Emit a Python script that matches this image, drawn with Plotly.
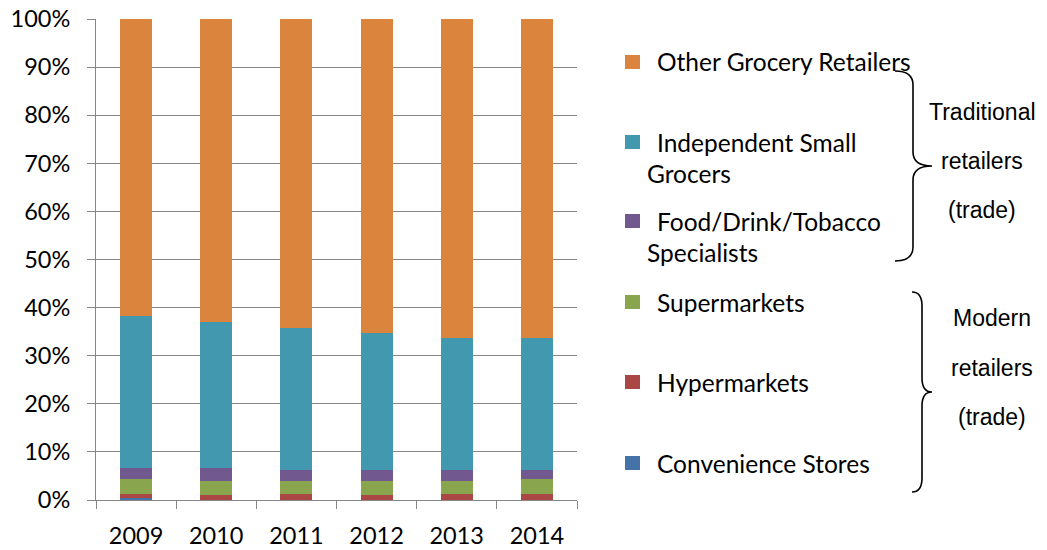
import plotly.graph_objects as go

years = ["2009", "2010", "2011", "2012", "2013", "2014"]

# segment shares (%), bottom to top
convenience = [0.5, 0.0, 0.0, 0.0, 0.0, 0.0]
hypermarkets = [0.8, 1.0, 1.3, 1.0, 1.3, 1.3]
supermarkets = [3.0, 3.0, 2.7, 3.0, 2.7, 3.0]
food_specialists = [2.4, 2.7, 2.3, 2.3, 2.3, 2.0]
independent = [31.5, 30.3, 29.5, 28.4, 27.4, 27.4]
other_grocery = [61.8, 63.0, 64.2, 65.3, 66.3, 66.3]

series = [
    ("Convenience Stores", convenience, "#4572A7"),
    ("Hypermarkets", hypermarkets, "#AA4643"),
    ("Supermarkets", supermarkets, "#89A54E"),
    ("Food/Drink/Tobacco Specialists", food_specialists, "#71588F"),
    ("Independent Small Grocers", independent, "#4198AF"),
    ("Other Grocery Retailers", other_grocery, "#DB843D"),
]

W, H = 1047, 550
L, R, T, B = 96, 577, 19, 500  # plot area in screen pixels


def px(x):
    return (x - L) / (R - L)


def py(y):
    return (B - y) / (B - T)


fig = go.Figure()
for name, vals, col in series:
    fig.add_trace(go.Bar(x=years, y=vals, name=name, marker_color=col,
                         marker_line_width=0, showlegend=False))

shapes = []
annotations = []

# legend drawn by hand (multi-line entries)
legend_rows = [
    ("Other Grocery Retailers", None, 62, "#DB843D"),
    ("Independent Small", "Grocers", 142, "#4198AF"),
    ("Food/Drink/Tobacco", "Specialists", 221, "#71588F"),
    ("Supermarkets", None, 302, "#89A54E"),
    ("Hypermarkets", None, 382, "#AA4643"),
    ("Convenience Stores", None, 463, "#4572A7"),
]
font_leg = dict(family="Lato, Open Sans, sans-serif", size=24.5, color="black")
for first, second, yc, col in legend_rows:
    shapes.append(dict(type="rect", xref="paper", yref="paper",
                       x0=px(625), x1=px(640), y0=py(yc + 7), y1=py(yc - 7),
                       fillcolor=col, line_width=0))
    annotations.append(dict(text=first, xref="paper", yref="paper", x=px(655), y=py(yc),
                            xanchor="left", yanchor="middle", showarrow=False, font=font_leg))
    if second:
        annotations.append(dict(text=second, xref="paper", yref="paper", x=px(645), y=py(yc + 31),
                                xanchor="left", yanchor="middle", showarrow=False, font=font_leg))


def brace(x_end, x_mid, x_tip, y_top, y_bot):
    ym = (y_top + y_bot) / 2
    pts = [
        ("M", (x_end, y_top)),
        ("Q", (x_mid, y_top), (x_mid, y_top + 14)),
        ("L", (x_mid, ym - 14)),
        ("Q", (x_mid, ym), (x_tip, ym)),
        ("Q", (x_mid, ym), (x_mid, ym + 14)),
        ("L", (x_mid, y_bot - 14)),
        ("Q", (x_mid, y_bot), (x_end, y_bot)),
    ]
    d = ""
    for cmd, *ps in pts:
        d += cmd + " " + " ".join(f"{px(a):.5f},{py(b):.5f}" for a, b in ps) + " "
    return dict(type="path", xref="paper", yref="paper", path=d.strip(),
                line=dict(color="black", width=1.6))


shapes.append(brace(895, 913, 932, 71, 261))
shapes.append(brace(912, 922, 932, 292, 492))

font_br = dict(family="Liberation Sans, Arial, sans-serif", size=23, color="black")
for txt, xc, yc in [("Traditional", 982, 112), ("retailers", 982, 161), ("(trade)", 982, 210),
                    ("Modern", 992, 318), ("retailers", 992, 368), ("(trade)", 992, 417)]:
    annotations.append(dict(text=txt, xref="paper", yref="paper", x=px(xc), y=py(yc),
                            xanchor="center", yanchor="middle", showarrow=False, font=font_br))

fig.update_layout(
    width=W, height=H,
    margin=dict(l=L, r=W - R, t=T, b=H - B, autoexpand=False),
    barmode="stack", bargap=0.6,
    plot_bgcolor="white", paper_bgcolor="white",
    font=dict(family="Lato, Open Sans, sans-serif", size=23, color="black"),
    shapes=shapes, annotations=annotations,
)
fig.update_yaxes(range=[0, 100], dtick=10, ticksuffix="%", showgrid=True,
                 gridcolor="#868686", gridwidth=1, showline=True, linecolor="#868686",
                 ticks="outside", ticklen=8, tickcolor="#868686", zeroline=False,
                 ticklabelstandoff=12, ticklabeloverflow="allow",
                 automargin=False, tickfont=dict(size=23.5))
fig.update_xaxes(showline=True, linecolor="#868686", ticks="outside", ticklen=8,
                 tickcolor="#868686", tickson="boundaries", ticklabelstandoff=15,
                 automargin=False, tickfont=dict(size=23.5))

# drop the browser's default 8px body margin so the figure sits at the page corner
fig.write_html("out.html", config={"displayModeBar": False},
               post_script="document.body.style.margin='0';")
